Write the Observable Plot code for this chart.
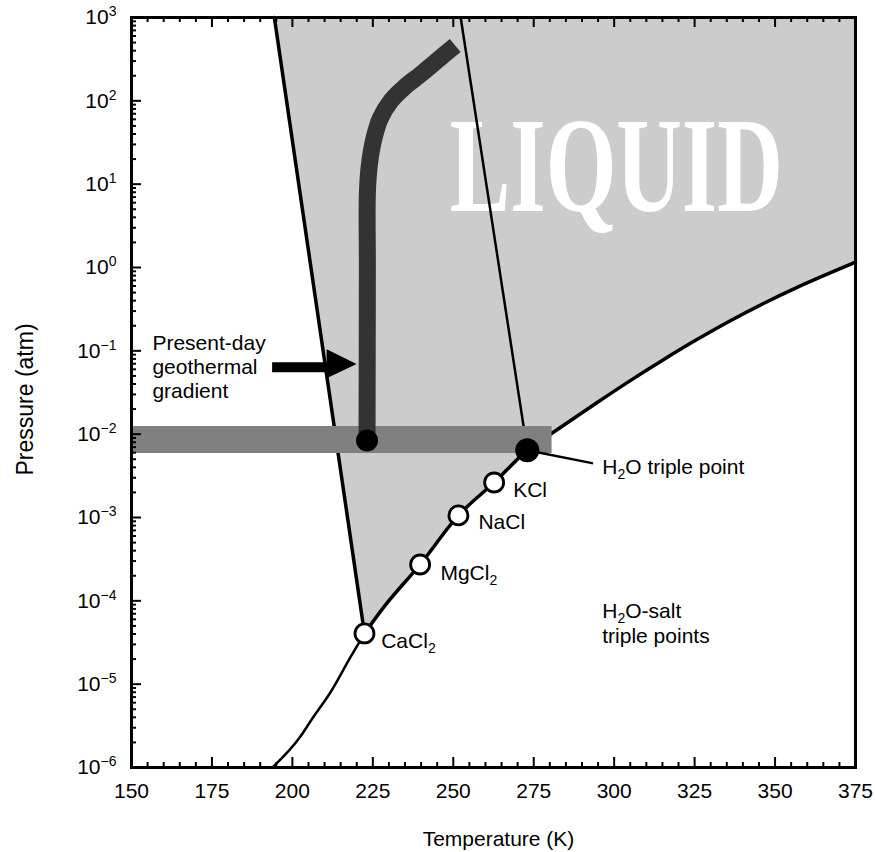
<!DOCTYPE html>
<html>
<head>
<meta charset="utf-8">
<script src="https://cdn.jsdelivr.net/npm/d3@7"></script>
<script src="https://cdn.jsdelivr.net/npm/@observablehq/plot@0.6"></script>
<style>
  html, body { margin: 0; padding: 0; background: #fff; }
  #chart svg { display: block; }
</style>
</head>
<body>
<div id="chart"></div>
<script>
// ---------- axis ticks ----------
const xMajorTicks = [150, 175, 200, 225, 250, 275, 300, 325, 350, 375];
const yMajorTicks = [1e-6, 1e-5, 1e-4, 1e-3, 1e-2, 1e-1, 1e0, 1e1, 1e2, 1e3];
const yTickLabels = ["10^{−6}", "10^{−5}", "10^{−4}", "10^{−3}", "10^{−2}", "10^{−1}", "10^{0}", "10^{1}", "10^{2}", "10^{3}"];

// ---------- phase boundaries (T in K, P in atm) ----------
// left (CaCl2 eutectic) boundary of the liquid field
const eutecticT = [194.4, 222.4];
const eutecticP = [1000, 4.06e-5];
// thin line from top to the H2O triple point
const iceLineT = [252.3, 273.0];
const iceLineP = [1000, 6.4e-3];
// curve below the CaCl2 point
const lowCurveT = [193.8, 202.5, 206.2, 211.8, 218.0, 222.4];
const lowCurveP = [1e-6, 2.35e-6, 3.87e-6, 7.94e-6, 2.09e-5, 4.06e-5];
// salt triple-point curve + vapour-pressure curve
const upperCurveT = [222.4, 228.4, 239.7, 251.6, 262.7, 273.0, 281.1, 294.6, 305.0, 315.3, 325.7, 336.1, 346.4, 356.7, 367.1, 375];
const upperCurveP = [4.06e-5, 8.4e-5, 2.73e-4, 1.06e-3, 2.63e-3, 6.4e-3, 0.01054, 0.0238, 0.0439, 0.0783, 0.1365, 0.230, 0.370, 0.574, 0.861, 1.16];

// present-day geothermal gradient
const gradientT = [223.2, 223.3, 223.3, 223.9, 225.2, 227.3, 230.7, 235.1, 239.8, 245.0, 250.6];
const gradientP = [8.4e-3, 1.0, 7.66, 16.7, 33.4, 61.4, 101, 149, 207, 305, 461];

// horizontal grey band (surface pressure range)
const bandT = [150, 280.7];
const bandP = [5.86e-3, 0.01236];

// salt triple points (open circles)
const saltNames = ["CaCl_{2}", "MgCl_{2}", "NaCl", "KCl"];
const saltT = [222.4, 239.7, 251.6, 262.7];
const saltP = [4.06e-5, 2.73e-4, 1.06e-3, 2.63e-3];
const saltLabelT = [227.6, 246.0, 257.8, 268.6];
const saltLabelP = [2.75e-5, 1.80e-4, 7.18e-4, 1.74e-3];

// black points: H2O triple point, gradient base
const triplePointT = [273.0];
const triplePointP = [6.4e-3];
const gradientBaseT = [223.2];
const gradientBaseP = [8.4e-3];

// leader line from triple point to its label
const leaderT = [273.0, 293.1];
const leaderP = [6.4e-3, 4.49e-3];

// arrow (shaft + head)
const arrowShaftT = [193.7, 212.0];
const arrowShaftP = [0.0637, 0.0637];
const arrowHeadT = [210.8, 220.1];
const arrowHeadP1 = [0.0461, 0.0685];
const arrowHeadP2 = [0.1028, 0.0685];

// text annotations
const gradientLabel = ["Present-day\ngeothermal\ngradient"];
const gradientLabelT = [156.5];
const gradientLabelP = [0.0268];
const tripleLabel = ["H_{2}O triple point"];
const tripleLabelT = [296.3];
const tripleLabelP = [3.37e-3];
const saltNote = ["H_{2}O-salt\ntriple points"];
const saltNoteT = [296.3];
const saltNoteP = [3.16e-5];
const liquidWord = ["LIQUID"];
const liquidWordT = [248.9];
const liquidWordP = [4.83];

// ---------- helpers ----------
const pts = (T, P) => T.map((t, i) => ({T: t, P: P[i]}));
const labeled = (L, T, P) => L.map((s, i) => ({label: s, T: T[i], P: P[i]}));

const W = 875, H = 852;
const mL = 131, mR = 20, mT = 17, mB = 85;
const fw = W - mL - mR, fh = H - mT - mB;

const xMinorTicks = d3.range(150, 375.1, 5).filter(v => v % 25 !== 0);
const yMinorTicks = yMajorTicks.slice(0, -1).flatMap(d => d3.range(2, 10).map(k => k * d));
const yLabelMap = new Map(yMajorTicks.map((v, i) => [v, yTickLabels[i]]));

const liquidBoundary = [{T: eutecticT[0], P: eutecticP[0]}, ...pts(upperCurveT, upperCurveP)];
const arrowHead = arrowHeadT.map((t, i) => ({T: t, P1: arrowHeadP1[i], P2: arrowHeadP2[i]}));
const band = [{T1: bandT[0], T2: bandT[1], P1: bandP[0], P2: bandP[1]}];

const sans = "'Liberation Sans', Arial, Helvetica, sans-serif";

const chart = Plot.plot({
  width: W, height: H,
  marginLeft: mL, marginRight: mR, marginTop: mT, marginBottom: mB,
  style: {fontFamily: sans, fontSize: "21px", background: "#fff", color: "#000"},
  x: {domain: [150, 375]},
  y: {type: "log", domain: [1e-6, 1e3]},
  marks: [
    // liquid field
    Plot.areaY(liquidBoundary, {x: "T", y1: "P", y2: 1000, fill: "#cccccc", curve: "linear"}),
    Plot.text(labeled(liquidWord, liquidWordT, liquidWordP), {
      x: "T", y: "P", text: "label", fill: "#fff",
      fontFamily: "'Liberation Serif', 'Times New Roman', serif", fontSize: 91, fontWeight: "bold",
      textAnchor: "start", lineAnchor: "bottom"
    }),
    // boundaries
    Plot.line(pts(eutecticT, eutecticP), {x: "T", y: "P", stroke: "#000", strokeWidth: 3.5}),
    Plot.line(pts(iceLineT, iceLineP), {x: "T", y: "P", stroke: "#000", strokeWidth: 2.5}),
    Plot.line(pts(lowCurveT, lowCurveP), {x: "T", y: "P", stroke: "#000", strokeWidth: 2.5, curve: "monotone-x"}),
    Plot.line(pts(upperCurveT, upperCurveP), {x: "T", y: "P", stroke: "#000", strokeWidth: 3.5, curve: "monotone-x"}),
    // grey band
    Plot.rect(band, {x1: "T1", x2: "T2", y1: "P1", y2: "P2", fill: "#808080"}),
    // geothermal gradient
    Plot.line(pts(gradientT, gradientP), {x: "T", y: "P", stroke: "#333333", strokeWidth: 17, strokeLinecap: "butt", curve: "catmull-rom"}),
    // arrow
    Plot.line(pts(arrowShaftT, arrowShaftP), {x: "T", y: "P", stroke: "#000", strokeWidth: 10, strokeLinecap: "butt"}),
    Plot.areaY(arrowHead, {x: "T", y1: "P1", y2: "P2", fill: "#000", curve: "linear"}),
    // leader line
    Plot.line(pts(leaderT, leaderP), {x: "T", y: "P", stroke: "#000", strokeWidth: 2.5}),
    // points
    Plot.dot(pts(saltT, saltP), {x: "T", y: "P", r: 9.5, fill: "#fff", stroke: "#000", strokeWidth: 2.8}),
    Plot.dot(pts(gradientBaseT, gradientBaseP), {x: "T", y: "P", r: 11, fill: "#000"}),
    Plot.dot(pts(triplePointT, triplePointP), {x: "T", y: "P", r: 12, fill: "#000"}),
    // labels
    Plot.text(labeled(saltNames, saltLabelT, saltLabelP), {x: "T", y: "P", text: "label", textAnchor: "start", lineAnchor: "bottom", fontSize: 21, fill: "#000"}),
    Plot.text(labeled(tripleLabel, tripleLabelT, tripleLabelP), {x: "T", y: "P", text: "label", textAnchor: "start", lineAnchor: "bottom", fontSize: 21, fill: "#000"}),
    Plot.text(labeled(saltNote, saltNoteT, saltNoteP), {x: "T", y: "P", text: "label", textAnchor: "start", lineAnchor: "bottom", fontSize: 21, lineHeight: 1.19, fill: "#000"}),
    Plot.text(labeled(gradientLabel, gradientLabelT, gradientLabelP), {x: "T", y: "P", text: "label", textAnchor: "start", lineAnchor: "bottom", fontSize: 21, lineHeight: 1.143, fill: "#000"}),
    // inward ticks
    Plot.tickX(xMajorTicks, {x: d => d, insetTop: fh - 10, stroke: "#000", strokeWidth: 2}),
    Plot.tickX(xMajorTicks, {x: d => d, insetBottom: fh - 10, stroke: "#000", strokeWidth: 2}),
    Plot.tickX(xMinorTicks, {x: d => d, insetTop: fh - 5, stroke: "#000", strokeWidth: 2}),
    Plot.tickX(xMinorTicks, {x: d => d, insetBottom: fh - 5, stroke: "#000", strokeWidth: 2}),
    Plot.tickY(yMajorTicks, {y: d => d, insetRight: fw - 10, stroke: "#000", strokeWidth: 2}),
    Plot.tickY(yMinorTicks, {y: d => d, insetRight: fw - 5, stroke: "#000", strokeWidth: 2}),
    Plot.frame({stroke: "#000", strokeWidth: 3}),
    // tick labels
    Plot.axisX(xMajorTicks, {anchor: "bottom", tickSize: 0, tickPadding: 16, label: null, fontSize: 21}),
    Plot.axisY(yMajorTicks, {anchor: "left", tickSize: 0, tickPadding: 15, label: null, fontSize: 21, tickFormat: d => yLabelMap.get(d)}),
    // axis titles
    Plot.text(["Pressure (atm)"], {frameAnchor: "left", dx: -99, dy: 7, rotate: -90, textAnchor: "middle", lineAnchor: "bottom", fontSize: 23, fill: "#000"}),
    Plot.text(["Temperature (K)"], {frameAnchor: "bottom", dx: 5, dy: 78, textAnchor: "middle", lineAnchor: "bottom", fontSize: 21, fill: "#000"})
  ]
});

// ---------- rich text: ^{...} superscripts, _{...} subscripts ----------
const NS = "http://www.w3.org/2000/svg";
function richify(root) {
  const leaves = Array.from(root.querySelectorAll("text, tspan")).filter(el => el.children.length === 0);
  for (const el of leaves) {
    const s = el.textContent;
    if (!/[\^_]\{/.test(s)) continue;
    el.textContent = "";
    const re = /([\^_])\{([^}]*)\}/g;
    let last = 0, m;
    const mk = (txt) => { const t = document.createElementNS(NS, "tspan"); t.textContent = txt; return t; };
    while ((m = re.exec(s))) {
      if (m.index > last) el.appendChild(mk(s.slice(last, m.index)));
      const t = mk(m[2]);
      t.setAttribute("font-size", "14");
      t.setAttribute("baseline-shift", m[1] === "^" ? "8" : "-5");
      el.appendChild(t);
      last = re.lastIndex;
    }
    if (last < s.length) el.appendChild(mk(s.slice(last)));
  }
  // tall, narrow display lettering for LIQUID
  for (const el of root.querySelectorAll("text")) {
    if (el.textContent === "LIQUID") {
      const tr = el.getAttribute("transform") || "";
      el.setAttribute("transform", tr + " scale(1,1.5)");
      el.setAttribute("textLength", "333");
      el.setAttribute("lengthAdjust", "spacingAndGlyphs");
    }
  }
}
richify(chart);
document.getElementById("chart").appendChild(chart);
</script>
</body>
</html>
